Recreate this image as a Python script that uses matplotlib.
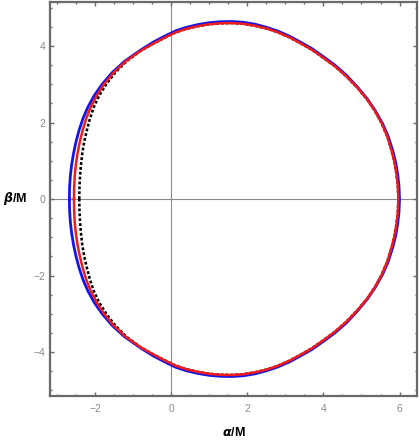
import numpy as np
import matplotlib.pyplot as plt
from matplotlib.ticker import MultipleLocator

# Upper halves of the shadow curves (alpha/M, beta/M);
# the lower halves are the mirror images
blue_alpha = [-2.68, -2.675, -2.655, -2.62, -2.57, -2.505, -2.425, -2.325, -2.195, -2.03, -1.82,
              -1.56, -1.23, -0.80, -0.46, -0.15, 0.12, 0.40, 0.70, 1.00, 1.30, 1.60, 1.90, 2.20,
              2.50, 2.80, 3.10, 3.40, 3.70, 4.00, 4.30, 4.60, 4.90, 5.15, 5.35, 5.55, 5.70, 5.82,
              5.90, 5.95, 5.985, 6.00]
blue_beta = [0.00, 0.30, 0.60, 0.90, 1.20, 1.50, 1.80, 2.10, 2.40, 2.70, 3.00,
             3.30, 3.60, 3.90, 4.11, 4.27, 4.40, 4.49, 4.56, 4.61, 4.635, 4.64, 4.62, 4.57,
             4.49, 4.39, 4.26, 4.10, 3.93, 3.72, 3.50, 3.24, 2.92, 2.62, 2.33, 1.98, 1.64, 1.27,
             0.95, 0.65, 0.35, 0.00]

red_alpha = [-2.56, -2.555, -2.54, -2.51, -2.465, -2.405, -2.33, -2.24, -2.12, -1.965, -1.77,
             -1.52, -1.20, -0.80, -0.46, -0.15, 0.12, 0.40, 0.70, 1.00, 1.30, 1.60, 1.90, 2.20,
             2.50, 2.80, 3.10, 3.40, 3.70, 4.00, 4.30, 4.60, 4.90, 5.15, 5.35, 5.53, 5.68, 5.79,
             5.87, 5.92, 5.955, 5.97]
red_beta = [0.00, 0.30, 0.60, 0.90, 1.20, 1.50, 1.80, 2.10, 2.40, 2.70, 3.00,
            3.30, 3.60, 3.88, 4.07, 4.23, 4.36, 4.45, 4.52, 4.57, 4.595, 4.60, 4.58, 4.53,
            4.46, 4.36, 4.23, 4.07, 3.90, 3.69, 3.47, 3.21, 2.90, 2.60, 2.31, 1.98, 1.63, 1.27,
            0.95, 0.65, 0.35, 0.00]

black_alpha = [-2.42, -2.415, -2.40, -2.375, -2.34, -2.29, -2.22, -2.14, -2.04, -1.90, -1.71,
               -1.48, -1.18, -0.80, -0.46, -0.15, 0.12, 0.40, 0.70, 1.00, 1.30, 1.60, 1.90, 2.20,
               2.50, 2.80, 3.10, 3.40, 3.70, 4.00, 4.30, 4.60, 4.90, 5.15, 5.35, 5.53, 5.68, 5.79,
               5.87, 5.92, 5.955, 5.97]
black_beta = red_beta

x_ticks = [-2, 0, 2, 4, 6]
y_ticks = [-4, -2, 0, 2, 4]


def closed(a, b):
    a = np.array(a)
    b = np.array(b)
    # over the top, then back along the bottom
    return np.concatenate([a, a[::-1]]), np.concatenate([b, -b[::-1]])


fig = plt.figure(figsize=(4.19, 4.41), dpi=100)
ax = fig.add_axes([0.1193, 0.102, 0.876, 0.8934])

ax.axhline(0, color='#8a8a8a', lw=0.8, zorder=1)
ax.axvline(0, color='#8a8a8a', lw=0.8, zorder=1)

xa, yb = closed(black_alpha, black_beta)
ax.plot(xa, yb, color='black', lw=1.85, dashes=(1.1, 0.8), zorder=2)
xa, yb = closed(blue_alpha, blue_beta)
ax.plot(xa, yb, color='#1414e6', lw=2.0, zorder=3, solid_joinstyle='round')
xa, yb = closed(red_alpha, red_beta)
ax.plot(xa, yb, color='#ee1c1c', lw=1.8, zorder=4, solid_joinstyle='round')

ax.set_xlim(-3.19, 6.46)
ax.set_ylim(-5.15, 5.15)
ax.set_xticks(x_ticks)
ax.set_yticks(y_ticks)
ax.set_xticklabels([str(t).replace('-', '\u2212') for t in x_ticks])
ax.set_yticklabels([str(t).replace('-', '\u2212') for t in y_ticks])
ax.xaxis.set_minor_locator(MultipleLocator(0.5))
ax.yaxis.set_minor_locator(MultipleLocator(0.5))

ax.tick_params(which='both', direction='in', top=True, right=True, color='#6a6a6a', width=1.0)
ax.tick_params(which='major', length=3.0)
ax.tick_params(which='minor', length=1.6)
ax.tick_params(axis='x', pad=6.0, labelsize=7.5, labelcolor='#8c8c8c')
ax.tick_params(axis='y', pad=3.5, labelsize=7.5, labelcolor='#8c8c8c')
for lab in ax.get_xticklabels() + ax.get_yticklabels():
    lab.set_family('Liberation Sans')

for s in ax.spines.values():
    s.set_color('#6a6a6a')
    s.set_linewidth(1.6)

fig.text(234 / 419, 1 - 433 / 441, r'$\boldsymbol{\alpha}$/M', ha='center', va='center',
         fontsize=9, fontweight='bold', family='Liberation Sans')
fig.text(15 / 419, 1 - 198 / 441, r'$\boldsymbol{\beta}$/M', ha='center', va='center',
         fontsize=9, fontweight='bold', family='Liberation Sans')

fig.savefig('out.png', dpi=100)
